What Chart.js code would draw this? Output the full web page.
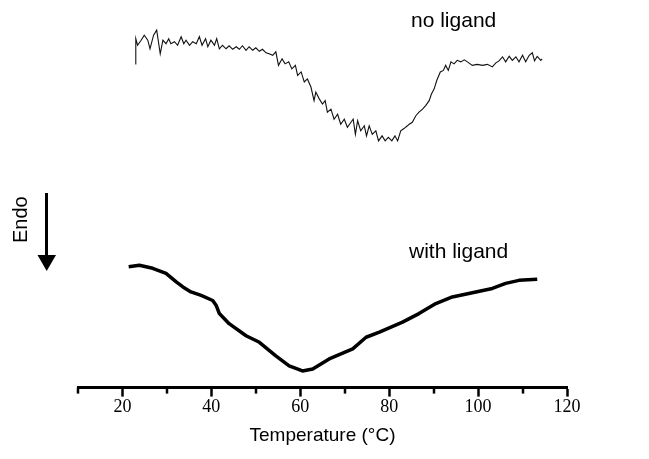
<!DOCTYPE html>
<html>
<head>
<meta charset="utf-8">
<script src="https://cdn.jsdelivr.net/npm/chart.js@4/dist/chart.umd.min.js"></script>
<style>
  html, body { margin: 0; padding: 0; background: #fff; }
  #wrap { width: 649px; height: 459px; position: relative; }
</style>
</head>
<body>
<div id="wrap"><canvas id="c"></canvas></div>
<script>
// Temperature (°C) and heat flow (arbitrary units, offset traces)
const noLigandTemp = [22.9, 23.0, 23.4, 24.2, 24.9, 25.7, 26.2, 27.0, 27.7, 28.5, 29.1, 29.8, 30.4, 30.9, 31.7, 32.4, 33.2, 33.8, 34.3, 35.1, 35.8, 36.6, 37.3, 37.9, 38.7, 39.2, 39.9, 40.7, 41.2, 41.8, 42.5, 43.3, 44.0, 44.8, 45.6, 46.3, 47.0, 47.8, 48.5, 49.3, 50.0, 50.8, 51.5, 52.3,
  53.0, 53.8, 54.5, 55.1, 55.9, 56.6, 57.4, 58.1, 58.9, 59.4, 60.2, 60.9, 61.6, 62.4, 63.1, 63.5, 64.3, 65.0, 65.6, 66.1, 66.9, 67.6, 68.4, 69.1, 69.9, 70.6, 71.4, 71.9, 72.4, 72.9, 73.6, 74.4, 74.9, 75.5, 76.2, 77.0, 77.6, 78.4, 79.1, 79.8, 80.6, 81.3, 81.9, 82.6, 83.4, 84.1,
  84.5, 85.2, 86.0, 86.7, 87.5, 88.2, 89.0, 89.5, 90.1, 90.7, 91.5, 92.2, 92.7, 93.3, 93.9, 94.6, 95.3, 96.1, 96.9, 97.6, 98.7, 99.8, 101.0, 102.1, 103.2, 104.0, 104.7, 105.5, 106.2, 107.0, 107.7, 108.5, 109.2, 110.0, 110.7, 111.5, 112.2, 112.7, 113.3, 114.1, 114.4];
const noLigandHeat = [64.3, 69.3, 68.0, 69.0, 70.0, 69.0, 67.3, 70.0, 71.0, 66.3, 69.0, 68.3, 69.3, 68.3, 68.7, 68.0, 69.7, 68.3, 69.0, 68.0, 68.7, 68.3, 69.7, 68.0, 69.3, 67.7, 69.0, 68.0, 69.3, 67.3, 68.0, 67.3, 67.9, 67.2, 67.7, 67.2, 67.9, 67.0, 67.7, 67.0, 67.5, 66.8, 67.2, 66.5,
  66.3, 66.0, 66.7, 64.0, 65.3, 64.3, 64.7, 63.3, 64.0, 62.0, 62.7, 60.7, 61.3, 59.7, 57.0, 58.7, 57.3, 56.3, 57.0, 54.7, 55.3, 53.3, 54.3, 52.3, 53.3, 51.7, 52.7, 53.3, 50.3, 53.0, 51.0, 52.0, 50.0, 52.0, 50.3, 51.0, 49.0, 50.0, 49.0, 49.7, 49.0, 50.0, 49.0, 51.0, 51.5, 52.0,
  52.3, 52.7, 54.0, 54.7, 55.3, 56.0, 57.0, 58.3, 59.3, 61.0, 62.7, 63.0, 64.0, 63.0, 64.7, 64.3, 65.0, 64.7, 65.1, 64.7, 64.0, 64.2, 64.0, 64.2, 63.7, 64.5, 64.9, 65.7, 64.7, 65.8, 65.0, 65.7, 64.7, 66.0, 64.7, 66.0, 66.5, 64.9, 65.8, 65.0, 65.3];

const withLigandTemp = [21.4, 23.8, 26.8, 29.8, 32.1, 33.6, 35.4, 37.7, 40.3, 41.1, 41.8, 44.0, 47.8, 50.8, 54.5, 57.5, 60.5, 62.8, 66.5, 71.8, 74.8, 77.8, 83.0, 86.7, 90.5, 94.2, 99.5, 103.2, 106.2, 109.2, 113.3];
const withLigandHeat = [24.0, 24.3, 23.7, 22.7, 21.0, 20.0, 19.0, 18.3, 17.3, 16.3, 14.7, 12.7, 10.3, 9.0, 6.3, 4.3, 3.3, 3.7, 5.7, 7.7, 10.0, 11.0, 13.0, 14.7, 16.7, 18.0, 19.0, 19.7, 20.7, 21.3, 21.5];

const xTicks = [10, 20, 30, 40, 50, 60, 70, 80, 90, 100, 110, 120];
const xLabels = ['', '20', '', '40', '', '60', '', '80', '', '100', '', '120'];
const seriesLabels = ['no ligand', 'with ligand'];
const axisTitle = 'Temperature (°C)';
const yLabel = 'Endo';

function pts(xs, ys) { return xs.map((x, i) => ({ x: x, y: ys[i] })); }

const annot = {
  id: 'annot',
  afterDraw(chart) {
    const ctx = chart.ctx;
    const xs = chart.scales.x;
    ctx.save();
    // minor ticks
    ctx.strokeStyle = '#000';
    ctx.lineWidth = 2.5;
    const yb = chart.chartArea.bottom;
    xTicks.forEach((v, i) => {
      if (xLabels[i] === '') {
        const px = Math.round(xs.getPixelForValue(v));
        ctx.beginPath();
        ctx.moveTo(px, yb);
        ctx.lineTo(px, yb + 6);
        ctx.stroke();
      }
    });
    // labels
    ctx.fillStyle = '#000';
    ctx.font = '21px "Liberation Sans", Arial, sans-serif';
    ctx.textBaseline = 'alphabetic';
    ctx.textAlign = 'left';
    ctx.fillText(seriesLabels[0], 411, 27);
    ctx.fillText(seriesLabels[1], 409, 258);
    // Endo rotated
    ctx.save();
    ctx.translate(27, 243);
    ctx.rotate(-Math.PI / 2);
    ctx.font = '20px "Liberation Sans", Arial, sans-serif';
    ctx.fillText(yLabel, 0, 0);
    ctx.restore();
    // arrow
    ctx.lineWidth = 3;
    ctx.beginPath();
    ctx.moveTo(46.5, 193);
    ctx.lineTo(46.5, 257);
    ctx.stroke();
    ctx.beginPath();
    ctx.moveTo(37.5, 255);
    ctx.lineTo(56, 255);
    ctx.lineTo(46.7, 271);
    ctx.closePath();
    ctx.fill();
    ctx.restore();
  }
};

new Chart(document.getElementById('c'), {
  type: 'line',
  data: {
    datasets: [
      { label: seriesLabels[0], data: pts(noLigandTemp, noLigandHeat), borderColor: '#111', borderWidth: 1.1, pointRadius: 0, tension: 0, fill: false },
      { label: seriesLabels[1], data: pts(withLigandTemp, withLigandHeat), borderColor: '#000', borderWidth: 3.5, pointRadius: 0, tension: 0, fill: false, borderJoinStyle: 'round' }
    ]
  },
  options: {
    responsive: true,
    maintainAspectRatio: false,
    animation: false,
    layout: { padding: { left: 78, right: 82, top: 10, bottom: 12 } },
    plugins: { legend: { display: false }, tooltip: { enabled: false } },
    scales: {
      x: {
        type: 'linear', min: 10, max: 120,
        afterBuildTicks(scale) { scale.ticks = xTicks.map(v => ({ value: v })); },
        ticks: {
          autoSkip: false, maxRotation: 0, color: '#000', padding: 0,
          font: { family: '"Liberation Serif", "Times New Roman", serif', size: 18 },
          callback: (v) => { const i = xTicks.indexOf(v); return i >= 0 ? xLabels[i] : ''; }
        },
        grid: {
          drawOnChartArea: false, drawTicks: true, tickLength: 9, tickWidth: 2.5,
          tickColor: (ctx) => { const i = xTicks.indexOf(ctx.tick ? ctx.tick.value : -1); return (i >= 0 && xLabels[i] !== '') ? '#000' : 'rgba(0,0,0,0)'; }
        },
        border: { display: true, color: '#000', width: 3 },
        title: { display: true, text: axisTitle, color: '#000', padding: { top: 6, bottom: 0 },
          font: { family: '"Liberation Sans", Arial, sans-serif', size: 19 } }
      },
      y: { display: false, min: 0, max: 75 }
    }
  },
  plugins: [annot]
});
</script>
</body>
</html>
